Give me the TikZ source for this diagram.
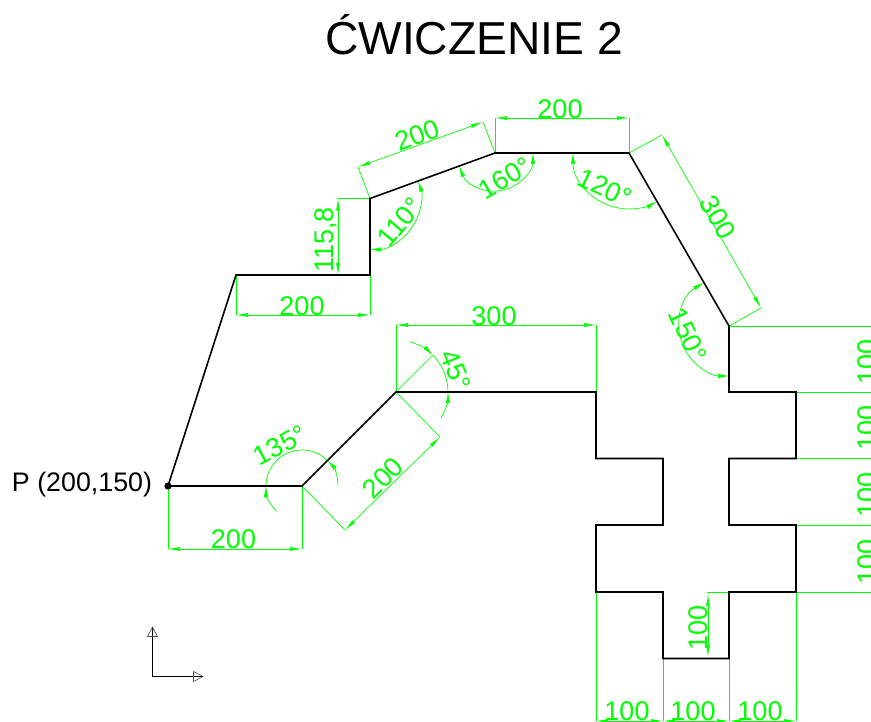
\documentclass[tikz,border=0pt]{standalone}
\usepackage{fontspec}
\setmainfont{Liberation Sans}
\usetikzlibrary{arrows.meta,calc}
\definecolor{dimgreen}{RGB}{0,255,0}
\tikzset{
  x=1pt,y=1pt,
  outline/.style={black,line width=1.6pt,line join=miter},
  extline/.style={dimgreen,line width=0.7pt},
  dimline/.style={dimgreen,line width=0.7pt,{Latex[length=12pt,width=4pt]}-{Latex[length=12pt,width=4pt]}},
  arcline/.style={dimgreen,line width=0.7pt},
  arcboth/.style={arcline,{Latex[length=11pt,width=4.5pt]}-{Latex[length=11pt,width=4.5pt]}},
  arcend/.style={arcline,-{Latex[length=11pt,width=4.5pt]}},
  dimtext/.style={text=dimgreen,inner sep=0pt,font=\fontsize{27}{27}\selectfont},
  axisline/.style={black,line width=0.8pt},
  axishead/.style={black!70,line width=0.6pt,line join=miter}
}
\begin{document}
\begin{tikzpicture}
\useasboundingbox (0,0) rectangle (871,-722);
\clip (0,0) rectangle (871,-722);
% outline points
\coordinate (P) at (168,-486);
\coordinate (a1) at (302,-486);
\coordinate (a2) at (396,-392);
\coordinate (a3) at (596,-392);
\coordinate (a4) at (596,-458.5);
\coordinate (a5) at (663,-458.5);
\coordinate (a6) at (663,-525);
\coordinate (a7) at (596,-525);
\coordinate (a8) at (596,-592);
\coordinate (a9) at (663,-592);
\coordinate (a10) at (663,-658.5);
\coordinate (a11) at (729,-658.5);
\coordinate (a12) at (729,-592);
\coordinate (a13) at (796,-592);
\coordinate (a14) at (796,-525);
\coordinate (a15) at (729,-525);
\coordinate (a16) at (729,-458.5);
\coordinate (a17) at (796,-458.5);
\coordinate (a18) at (796,-392);
\coordinate (a19) at (729,-392);
\coordinate (a20) at (729,-326);
\coordinate (a21) at (629,-153);
\coordinate (a22) at (495,-153);
\coordinate (a23) at (370,-198.5);
\coordinate (a24) at (370,-275);
\coordinate (a25) at (236,-275);
% dimension feet
\coordinate (d1a) at (168,-549); \coordinate (d1b) at (302,-549);
\coordinate (d2a) at (345,-530); \coordinate (d2b) at (440,-437);
\coordinate (d3a) at (396,-325); \coordinate (d3b) at (596,-325);
\coordinate (d4a) at (236,-315); \coordinate (d4b) at (370,-315);
\coordinate (d5a) at (338,-198.5); \coordinate (d5b) at (338,-275);
\coordinate (d6a) at (358,-167); \coordinate (d6b) at (483,-122);
\coordinate (d7a) at (495,-118); \coordinate (d7b) at (629,-118);
\coordinate (d8a) at (662,-135); \coordinate (d8b) at (761,-308);
\coordinate (d9a) at (708,-594); \coordinate (d9b) at (708,-657);
\coordinate (x9a) at (707,-592);
\coordinate (r1) at (871,-326); \coordinate (r2) at (871,-392);
\coordinate (r3) at (871,-458.5); \coordinate (r4) at (871,-525);
\coordinate (r5) at (871,-592);
\coordinate (b1) at (596,-721); \coordinate (b2) at (663,-721);
\coordinate (b3) at (729,-721); \coordinate (b4) at (796,-721);
\coordinate (e45) at (433,-355);
% extension lines
\draw[extline] (P) -- (d1a) (a1) -- (d1b);
\draw[extline] (a1) -- (d2a) (a2) -- (d2b);
\draw[extline] (a2) -- (d3a) (a3) -- (d3b);
\draw[extline] (a2) -- (e45);
\draw[extline] (a25) -- (d4a) (a24) -- (d4b);
\draw[extline] (a23) -- (d5a) (a24) -- (d5b);
\draw[extline] (a23) -- (d6a) (a22) -- (d6b);
\draw[extline] (a22) -- (d7a) (a21) -- (d7b);
\draw[extline] (a21) -- (d8a) (a20) -- (d8b);
\draw[extline] (a20) -- (r1) (a18) -- (r2) (a17) -- (r3) (a14) -- (r4) (x9a) -- (r5);
\draw[extline] (a8) -- (b1) (a10) -- (b2) (a11) -- (b3) (a13) -- (b4);
% dimension lines
\draw[dimline] (d1a) -- (d1b);
\draw[dimline] (d2a) -- (d2b);
\draw[dimline] (d3a) -- (d3b);
\draw[dimline] (d4a) -- (d4b);
\draw[dimline] (d5a) -- (d5b);
\draw[dimline] (d6a) -- (d6b);
\draw[dimline] (d7a) -- (d7b);
\draw[dimline] (d8a) -- (d8b);
\draw[dimline] (d9a) -- (d9b);
\draw[dimline] (b1) -- (b2);
\draw[dimline] (b2) -- (b3);
\draw[dimline] (b3) -- (b4);
% angle arcs
\draw[arcline] ([shift={(45:36pt)}]a1) arc[start angle=45,end angle=180,radius=36pt];
\draw[arcend] ([shift={(225:36pt)}]a1) arc[start angle=225,end angle=180,radius=36pt];
\draw[arcend] ([shift={(0:36pt)}]a1) arc[start angle=0,end angle=45,radius=36pt];
\draw[arcline] ([shift={(45:52pt)}]a2) arc[start angle=45,end angle=0,radius=52pt];
\draw[arcend] ([shift={(75:52pt)}]a2) arc[start angle=75,end angle=45,radius=52pt];
\draw[arcend] ([shift={(-30:52pt)}]a2) arc[start angle=-30,end angle=0,radius=52pt];
\draw[arcboth] ([shift={(270:51pt)}]a23) arc[start angle=270,end angle=380,radius=51pt];
\draw[arcboth] ([shift={(200:38pt)}]a22) arc[start angle=200,end angle=360,radius=38pt];
\draw[arcboth] ([shift={(180:56pt)}]a21) arc[start angle=180,end angle=300,radius=56pt];
\draw[arcboth] ([shift={(120:50pt)}]a20) arc[start angle=120,end angle=270,radius=50pt];
% outline
\draw[outline] (P) -- (a1) -- (a2) -- (a3) -- (a4) -- (a5) -- (a6) -- (a7) -- (a8) -- (a9) -- (a10) -- (a11) -- (a12) -- (a13) -- (a14) -- (a15) -- (a16) -- (a17) -- (a18) -- (a19) -- (a20) -- (a21) -- (a22) -- (a23) -- (a24) -- (a25) -- cycle;
\fill[black] (P) circle[radius=3.6pt];
% dimension labels
\node[dimtext] (t1) at (233.5,-539) {200};
\node[dimtext,rotate=45] (t2) at (383,-478) {200};
\node[dimtext] (t3) at (494,-316) {300};
\node[dimtext] (t4) at (302,-306) {200};
\node[dimtext,rotate=90] (t5) at (326,-240) {115,8};
\node[dimtext,rotate=20] (t6) at (417,-135) {200};
\node[dimtext] (t7) at (560,-109) {200};
\node[dimtext,rotate=-60] (t8) at (718,-217) {300};
\node[dimtext,rotate=90] (t9) at (698,-628) {100};
\node[dimtext,rotate=90] (t10) at (867,-362) {100};
\node[dimtext,rotate=90] (t11) at (867,-428) {100};
\node[dimtext,rotate=90] (t12) at (867,-495) {100};
\node[dimtext,rotate=90] (t13) at (867,-562) {100};
\node[dimtext] (t14) at (627,-711) {100};
\node[dimtext] (t15) at (693,-711) {100};
\node[dimtext] (t16) at (760,-711) {100};
\node[dimtext,rotate=28] (t17) at (280,-445) {135°};
\node[dimtext,rotate=-68] (t18) at (456,-370) {45°};
\node[dimtext,rotate=50] (t19) at (400,-222) {110°};
\node[dimtext,rotate=30] (t20) at (505,-178) {160°};
\node[dimtext,rotate=-25] (t21) at (605,-188) {120°};
\node[dimtext,rotate=-65] (t22) at (688,-335) {150°};
% black labels
\node[inner sep=0pt,font=\fontsize{26.8}{27}\selectfont] (plabel) at (82,-485) {P (200,150)};
\node[inner sep=0pt,font=\fontsize{46.2}{46}\selectfont] (title) at (474,-35) {ĆWICZENIE 2};
% axis icon
\coordinate (o) at (152.5,-676.5);
\coordinate (yt) at (152.5,-627);
\coordinate (xt) at (203,-676.5);
\draw[axisline] (yt) -- (o) -- (xt);
\draw[axishead] (yt) -- ($(yt)+(-5,-9.5)$) -- ($(yt)+(5,-9.5)$) -- cycle;
\draw[axishead] (xt) -- ($(xt)+(-9.5,5)$) -- ($(xt)+(-9.5,-5)$) -- cycle;
\end{tikzpicture}
\end{document}
